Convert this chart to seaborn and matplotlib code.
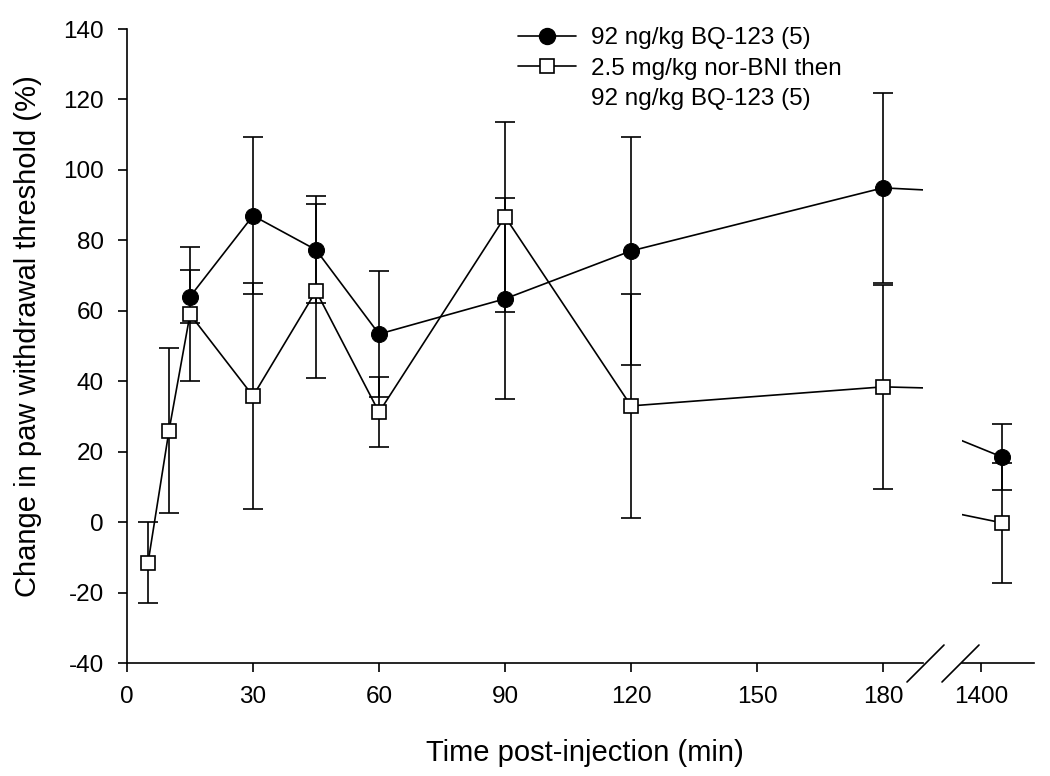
import matplotlib
matplotlib.use('Agg')
import matplotlib.pyplot as plt
import seaborn as sns
from matplotlib.lines import Line2D

# BQ-123 alone (filled circles)
time_bq = [15, 30, 45, 60, 90, 120, 180, 1440]
mean_bq = [64.0, 87.0, 77.3, 53.4, 63.4, 77.0, 94.9, 18.5]
sem_bq = [7.5, 22.3, 15.2, 17.9, 28.5, 32.4, 27.0, 9.3]

# nor-BNI then BQ-123 (open squares)
time_nor = [5, 10, 15, 30, 45, 60, 90, 120, 180, 1440]
mean_nor = [-11.6, 26.0, 59.0, 35.8, 65.6, 31.2, 86.7, 33.0, 38.4, -0.2]
sem_nor = [11.5, 23.3, 19.0, 32.0, 24.6, 10.0, 27.0, 31.7, 29.0, 17.0]

label_bq = '92 ng/kg BQ-123 (5)'
label_nor = ['2.5 mg/kg nor-BNI then', '92 ng/kg BQ-123 (5)']

left_ticks = [0, 30, 60, 90, 120, 150, 180]
right_ticks = [1400]
y_ticks = [-40, -20, 0, 20, 40, 60, 80, 100, 120, 140]

sns.set_style('ticks')
plt.rcParams['font.family'] = ['Liberation Sans', 'DejaVu Sans']
plt.rcParams['axes.unicode_minus'] = False
plt.rcParams['text.color'] = 'black'
plt.rcParams['axes.labelcolor'] = 'black'

W, H = 1050, 776
fig = plt.figure(figsize=(W / 100, H / 100), dpi=100)


def px_box(x0, x1, y_top, y_bot):
    return [x0 / W, 1 - y_bot / H, (x1 - x0) / W, (y_bot - y_top) / H]


ax1 = fig.add_axes(px_box(127, 923, 29, 663))
ax2 = fig.add_axes(px_box(962, 1034, 29, 663), sharey=ax1)

lw = 1.2
for ax in (ax1, ax2):
    # 误差线先画，折线和标记盖在上面
    ax.errorbar(time_bq, mean_bq, yerr=sem_bq, fmt='none', ecolor='black',
                elinewidth=lw, capsize=7, capthick=lw, zorder=1)
    ax.errorbar(time_nor, mean_nor, yerr=sem_nor, fmt='none', ecolor='black',
                elinewidth=lw, capsize=7, capthick=lw, zorder=1)
    sns.lineplot(x=time_bq, y=mean_bq, ax=ax, color='black', lw=lw,
                 marker='o', markersize=11.5, markerfacecolor='black',
                 markeredgecolor='black', zorder=3)
    sns.lineplot(x=time_nor, y=mean_nor, ax=ax, color='black', lw=lw,
                 marker='s', markersize=10, markerfacecolor='white',
                 markeredgecolor='black', markeredgewidth=lw, zorder=3)
    for side in ('top', 'right'):
        ax.spines[side].set_visible(False)
    ax.spines['bottom'].set_linewidth(lw)
    ax.spines['bottom'].set_color('black')
    ax.tick_params(axis='both', direction='out', length=6.5, width=lw,
                   labelsize=17.5, colors='black')
    ax.tick_params(axis='x', pad=10)
    ax.tick_params(axis='y', pad=10)

ax1.spines['left'].set_linewidth(lw)
ax1.spines['left'].set_color('black')
ax1.set_xlim(0, 189.5)
ax1.set_ylim(-40, 140)
ax1.set_xticks(left_ticks)
ax1.set_yticks(y_ticks)
ax1.set_xlabel('')
ax1.set_ylabel('')

ax2.spines['left'].set_visible(False)
ax2.set_xlim(1364, 1501)
ax2.set_xticks(right_ticks)
ax2.tick_params(axis='y', left=False, labelleft=False)
ax2.set_xlabel('')

# 断轴斜线
for x0 in (907, 942):
    fig.add_artist(Line2D([x0 / W, (x0 + 37) / W], [1 - 682 / H, 1 - 645 / H],
                          color='black', lw=lw, transform=fig.transFigure))

fig.text(585 / W, 1 - 753 / H, 'Time post-injection (min)', ha='center',
         va='center', fontsize=21)
fig.text(28 / W, 1 - 336 / H, 'Change in paw withdrawal threshold (%)',
         ha='center', va='center', rotation=90, fontsize=21)

handles = [
    Line2D([], [], color='black', lw=lw, marker='o', markersize=11.5,
           markerfacecolor='black'),
    Line2D([], [], color='black', lw=lw, marker='s', markersize=10,
           markerfacecolor='white', markeredgewidth=lw),
    Line2D([], [], color='none'),
]
ax1.legend(handles, [label_bq] + label_nor, loc='upper left',
           bbox_to_anchor=(518 / W, 1 - 27 / H), bbox_transform=fig.transFigure,
           frameon=False, fontsize=17.5, handlelength=2.4, handletextpad=0.6,
           borderpad=0, borderaxespad=0, labelspacing=0.35)

fig.savefig('out.png', dpi=100)
